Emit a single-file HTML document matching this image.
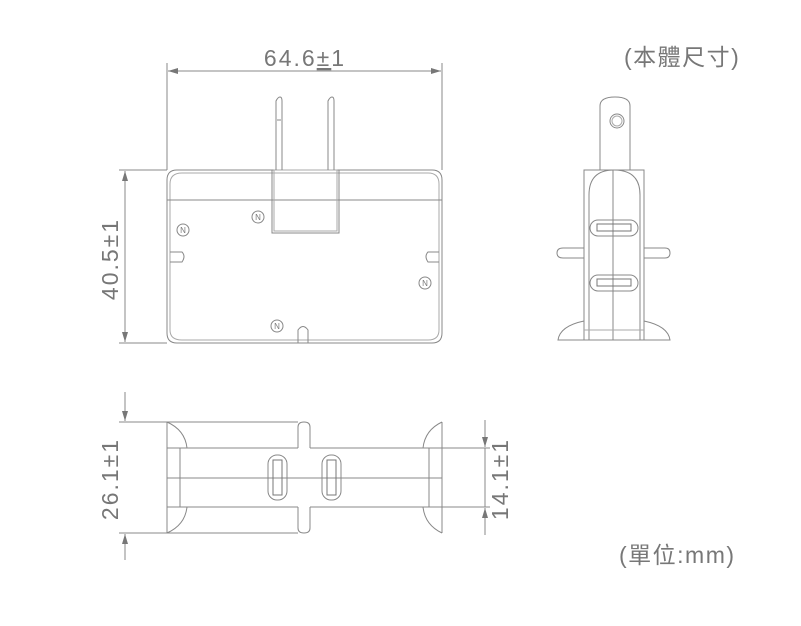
<!DOCTYPE html>
<html><head><meta charset="utf-8"><style>
html,body{margin:0;padding:0;background:#fff;width:801px;height:626px;overflow:hidden}
svg{display:block}
text{font-family:"Liberation Sans","Noto Sans CJK TC",sans-serif;fill:#777}
</style></head><body>
<svg width="801" height="626" viewBox="0 0 801 626" xmlns="http://www.w3.org/2000/svg">
<defs>
<marker id="a" viewBox="0 0 10 6" refX="10" refY="3" markerWidth="10" markerHeight="6" orient="auto-start-reverse" markerUnits="userSpaceOnUse"><path d="M0,0L10,3L0,6z" fill="#777"/></marker>
</defs>
<g fill="none" stroke="#888" stroke-width="1">
<line x1="167" y1="63" x2="167" y2="170"/><line x1="442" y1="63" x2="442" y2="170"/>
<line x1="168" y1="71" x2="441" y2="71" marker-start="url(#a)" marker-end="url(#a)"/>
<line x1="119" y1="170" x2="167" y2="170"/><line x1="119" y1="343" x2="167" y2="343"/>
<line x1="125" y1="171" x2="125" y2="342" marker-start="url(#a)" marker-end="url(#a)"/>
<path d="M177,170H432Q442,170 442,180V333Q442,343 432,343H177Q167,343 167,333V180Q167,170 177,170Z"/>
<path d="M182,173H428Q439,173 439,184V330Q439,340 428,340H182Q170,340 170,330V184Q170,173 182,173Z" stroke="#aaa"/>
<line x1="167" y1="200" x2="442" y2="200"/>
<rect x="272" y="170" width="67" height="63"/>
<rect x="274" y="170" width="63" height="61" stroke="#aaa"/>
<path d="M276,170V101Q278,97 280,97Q282,97 282,101V170"/>
<line x1="277" y1="120" x2="281" y2="120"/>
<path d="M328,170V101Q330,97 332,97Q334,97 334,101V170"/>
<circle cx="258" cy="217" r="6"/><circle cx="183" cy="230" r="6"/><circle cx="425" cy="283" r="6"/><circle cx="277" cy="326" r="6"/>
<path d="M170,252H182Q186,256 182,262H170"/>
<path d="M439,252H428Q424,256 428,262H439"/>
<path d="M298,343V330Q303,323 308,330V343"/>
<path d="M600,170V106Q600,97 615,97Q630,97 630,106V170"/>
<circle cx="617" cy="121" r="7"/><circle cx="617" cy="121" r="5" stroke="#aaa"/>
<rect x="584" y="170" width="60" height="170"/>
<path d="M589,340V195Q589,170 614,170Q640,170 640,195V340"/>
<line x1="613" y1="170" x2="613" y2="340"/>
<rect x="590" y="220" width="48" height="16" rx="8"/>
<rect x="597" y="224" width="34" height="7" stroke="#777"/>
<rect x="590" y="275" width="48" height="16" rx="8"/>
<rect x="597" y="279" width="34" height="7" stroke="#777"/>
<path d="M584,248H563Q557,248 557,253Q557,258 563,258H584"/>
<path d="M644,248H665Q670,248 670,253Q670,258 665,258H644"/>
<path d="M584,321Q560,326 558,340H584"/>
<path d="M644,321Q668,326 670,340H644"/>
<line x1="584" y1="330" x2="644" y2="330" stroke="#aaa"/>
<line x1="119" y1="422" x2="168" y2="422"/><line x1="119" y1="533" x2="168" y2="533"/>
<line x1="125" y1="392" x2="125" y2="421" marker-end="url(#a)"/>
<line x1="125" y1="560" x2="125" y2="534" marker-end="url(#a)"/>
<line x1="442" y1="448" x2="490" y2="448"/><line x1="442" y1="507" x2="490" y2="507"/>
<line x1="485" y1="420" x2="485" y2="447" marker-end="url(#a)"/>
<line x1="485" y1="535" x2="485" y2="508" marker-end="url(#a)"/>
<line x1="485" y1="448" x2="485" y2="507"/>
<line x1="167" y1="422" x2="298" y2="422"/><line x1="167" y1="533" x2="298" y2="533"/>
<line x1="167" y1="422" x2="167" y2="533"/><line x1="442" y1="422" x2="442" y2="533"/>
<path d="M167,422Q185,430 187,448"/><path d="M167,533Q185,525 187,507"/>
<path d="M442,422Q425,430 423,448"/><path d="M442,533Q425,525 423,507"/>
<line x1="167" y1="448" x2="298" y2="448"/><line x1="310" y1="448" x2="442" y2="448"/>
<line x1="167" y1="507" x2="298" y2="507"/><line x1="310" y1="507" x2="442" y2="507"/>
<line x1="167" y1="478" x2="442" y2="478"/>
<line x1="180" y1="448" x2="180" y2="507"/><line x1="429" y1="448" x2="429" y2="507"/>
<path d="M298,448V427Q298,422 304,422Q310,422 310,427V448"/>
<path d="M298,507V528Q298,533 304,533Q310,533 310,528V507"/>
<rect x="268" y="455" width="19" height="45" rx="9"/>
<rect x="273" y="460" width="9" height="35" stroke="#777"/>
<rect x="322" y="455" width="19" height="45" rx="9"/>
<rect x="327" y="460" width="9" height="35" stroke="#777"/>
</g>
<g font-size="8" text-anchor="middle">
<text x="258" y="220">N</text><text x="183" y="233">N</text><text x="425" y="286">N</text><text x="277" y="329">N</text>
</g>
<text x="305" y="66" font-size="23" letter-spacing="2" text-anchor="middle">64.6<tspan text-decoration="underline">±</tspan>1</text>
<text transform="translate(118,259) rotate(-90)" font-size="23" letter-spacing="2" text-anchor="middle">40.5±1</text>
<text transform="translate(118,479) rotate(-90)" font-size="23" letter-spacing="2" text-anchor="middle">26.1±1</text>
<text transform="translate(508,479) rotate(-90)" font-size="23" letter-spacing="2" text-anchor="middle">14.1±1</text>
<text x="624" y="65" font-size="23" letter-spacing="1.5">(本體尺寸)</text>
<text x="619" y="563" font-size="23" letter-spacing="1.5">(單位:mm)</text>
</svg>
</body></html>
